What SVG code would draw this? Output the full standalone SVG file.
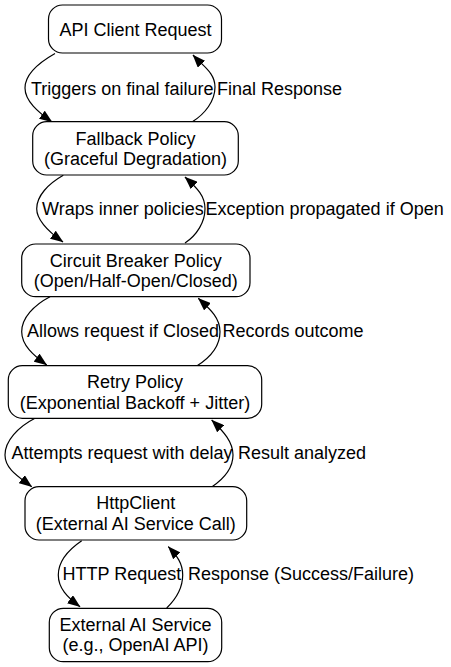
<svg xmlns="http://www.w3.org/2000/svg" width="451" height="667" viewBox="0 0 451 667">
<style>
text{font-family:"Liberation Sans",Arial,sans-serif;font-size:18px;fill:#000}
.node rect{fill:#fff;stroke:#000;stroke-width:1.2}
.node text{text-anchor:middle}
.edges path{fill:none;stroke:#000;stroke-width:1.2;marker-end:url(#arr)}
</style>
<defs>
<marker id="arr" viewBox="0 0 13 10" refX="12.5" refY="5" markerWidth="13" markerHeight="10" markerUnits="userSpaceOnUse" orient="auto">
<path d="M0,0 L13,5 L0,10 z" fill="#000"/>
</marker>
</defs>
<rect width="451" height="667" fill="#fff"/>
<g class="edges">
<path d="M55,53.5 C40,62 25,74 25,88 C25,101 38,112 52,122"/>
<path d="M192,122 C205,114 215,101 215,87 C215,73 204,67 193,55"/>
<path d="M63.3,175.3 C48,184 36.7,196 36.7,208.7 C36.7,221 49,232 63,242"/>
<path d="M185,243 C197,235 205,222 205,208.7 C205,196 198,189 185,177"/>
<path d="M50,296.7 C34,305 21.7,318 21.7,331.7 C21.7,345 33,355 46.7,365"/>
<path d="M196.7,366 C211,357 220,345 220,331.7 C220,318 211,310 198.3,298.3"/>
<path d="M35,418.3 C18,427 5,441 5,455 C5,469 19,477 31.7,486.7"/>
<path d="M211.7,487 C225,478 233,467 233,455 C233,442 224,432 211.7,420"/>
<path d="M81.7,540.7 C68,550 58.3,562 58.3,575 C58.3,588 67,597 80,606.7"/>
<path d="M166.7,608 C177,598 182.7,587 182.7,575 C182.7,563 177,556 168.3,546.7"/>
<text x="31" y="95">Triggers on final failure</text>
<text x="217" y="95">Final Response</text>
<text x="42" y="215">Wraps inner policies</text>
<text x="205.5" y="215">Exception propagated if Open</text>
<text x="27" y="337">Allows request if Closed</text>
<text x="222.5" y="337">Records outcome</text>
<text x="11.5" y="458.5">Attempts request with delay</text>
<text x="238" y="458.5">Result analyzed</text>
<text x="62.5" y="580">HTTP Request</text>
<text x="188" y="580">Response (Success/Failure)</text>
</g>
<g id="api-client" class="node">
<rect x="48.5" y="5" width="173" height="48" rx="14"/>
<text x="135.5" y="36">API Client Request</text>
</g>
<g id="fallback" class="node">
<rect x="32.7" y="121.7" width="205.6" height="53.3" rx="14"/>
<text x="135.5" y="144.5">Fallback Policy</text>
<text x="135.5" y="165">(Graceful Degradation)</text>
</g>
<g id="circuit-breaker" class="node">
<rect x="21.7" y="244" width="228.3" height="52.7" rx="14"/>
<text x="135.8" y="266.7">Circuit Breaker Policy</text>
<text x="135.8" y="287">(Open/Half-Open/Closed)</text>
</g>
<g id="retry" class="node">
<rect x="8.3" y="365.7" width="253.4" height="52.6" rx="14"/>
<text x="135" y="388">Retry Policy</text>
<text x="135" y="408.5">(Exponential Backoff + Jitter)</text>
</g>
<g id="httpclient" class="node">
<rect x="25" y="486.7" width="221.7" height="53.3" rx="14"/>
<text x="135.8" y="509">HttpClient</text>
<text x="135.8" y="529.5">(External AI Service Call)</text>
</g>
<g id="external-ai" class="node">
<rect x="49.3" y="608.3" width="172.4" height="53.4" rx="14"/>
<text x="135.5" y="631">External AI Service</text>
<text x="135.5" y="651">(e.g., OpenAI API)</text>
</g>
</svg>
